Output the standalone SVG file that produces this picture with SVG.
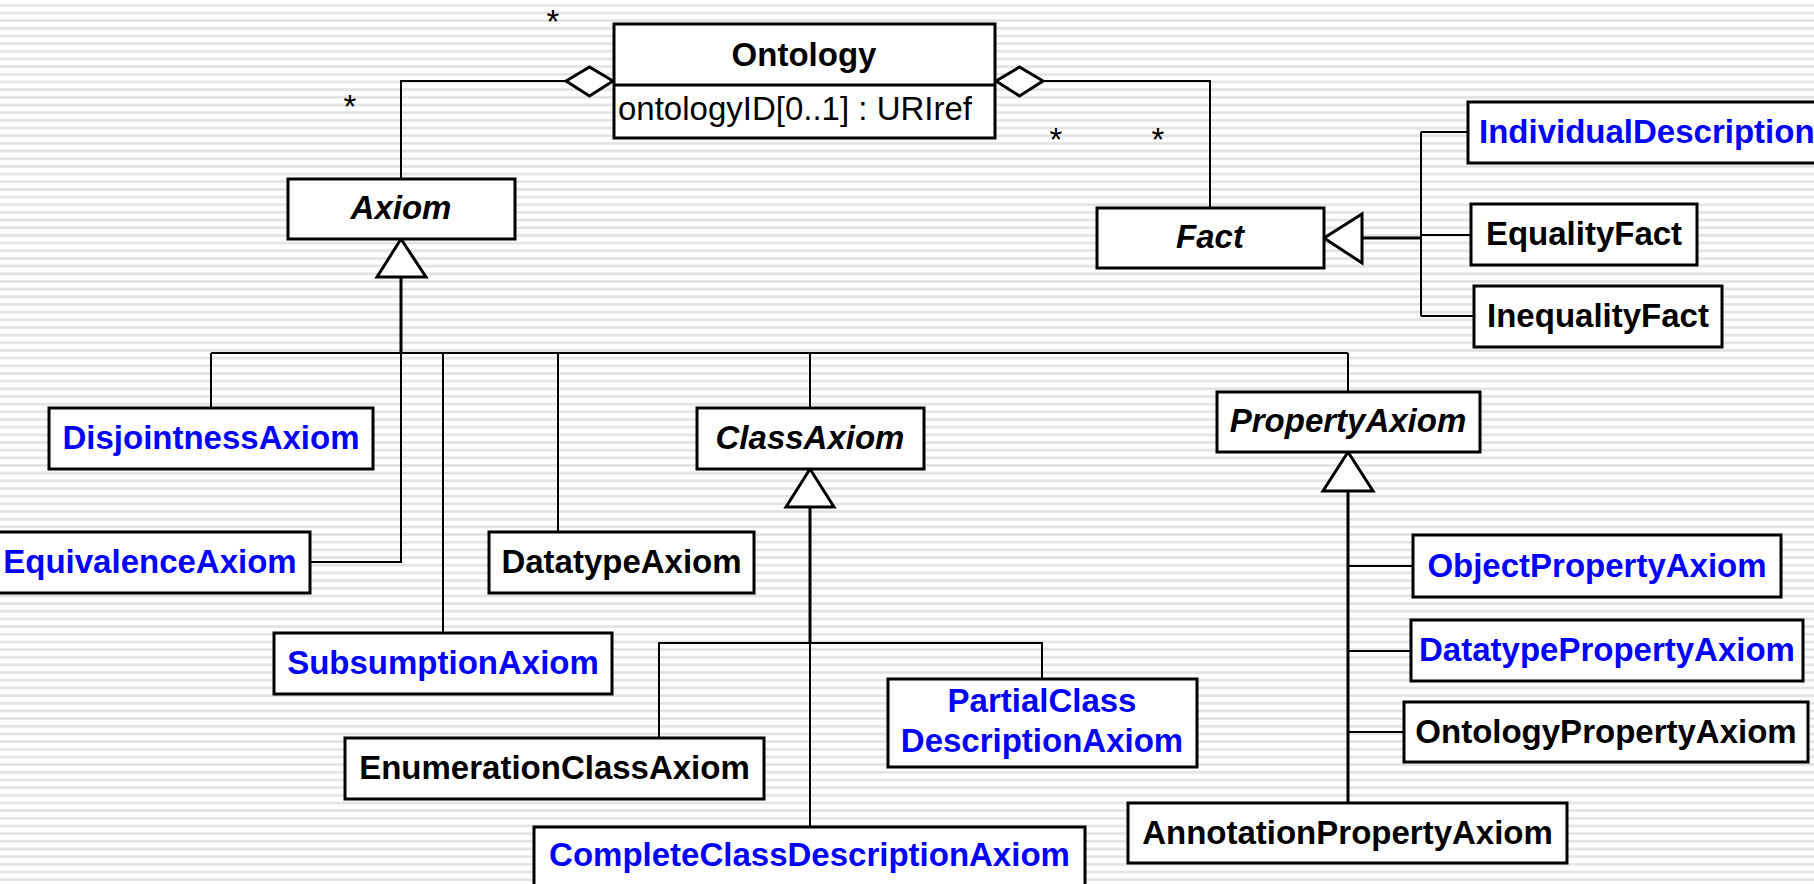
<svg xmlns="http://www.w3.org/2000/svg" width="1814" height="884" viewBox="0 0 1814 884">
<defs>
<pattern id="stripes" patternUnits="userSpaceOnUse" width="20" height="7.67">
<rect x="0" y="0" width="20" height="7.67" fill="#ffffff"/>
<rect x="0" y="4" width="20" height="2.6" fill="#e2e2e2"/>
</pattern>
<style>
.box{fill:#fff;stroke:#000;stroke-width:3}
.ln{fill:none;stroke:#000;stroke-width:2}
.thick{fill:none;stroke:#000;stroke-width:3}
.tri{fill:#fff;stroke:#000;stroke-width:3;stroke-linejoin:miter}
.dia{fill:#fff;stroke:#000;stroke-width:3}
.t{font-family:"Liberation Sans",Arial,sans-serif;font-size:33px;font-weight:bold;text-anchor:middle;fill:#000}
.blue{fill:#0000ff}
.it{font-style:italic}
.plain{font-family:"Liberation Sans",Arial,sans-serif;font-size:33px;fill:#000}
.star{font-family:"Liberation Sans",Arial,sans-serif;font-size:33px;fill:#000;text-anchor:middle}
</style>
</defs>
<rect x="0" y="0" width="1814" height="884" fill="url(#stripes)"/>

<g id="connectors">
<polyline class="ln" points="401,179 401,81 566,81"/>
<polygon class="dia" points="566,81 589.5,67 613,81 589.5,96"/>
<polyline class="ln" points="1210,208 1210,81 1043,81"/>
<polygon class="dia" points="996,81 1019.5,67 1043,81 1019.5,96"/>
<line class="thick" x1="401" y1="277" x2="401" y2="353"/>
<polyline class="ln" points="401,353 401,562 310,562"/>
<line class="ln" x1="211" y1="353" x2="1348" y2="353"/>
<line class="ln" x1="211" y1="353" x2="211" y2="408"/>
<line class="ln" x1="443" y1="353" x2="443" y2="633"/>
<line class="ln" x1="558" y1="353" x2="558" y2="532"/>
<line class="ln" x1="810" y1="353" x2="810" y2="408"/>
<line class="ln" x1="1348" y1="353" x2="1348" y2="392"/>
<polygon class="tri" points="401,239 377,277 426,277"/>
<line class="thick" x1="810" y1="507" x2="810" y2="643"/>
<line class="ln" x1="810" y1="643" x2="810" y2="827"/>
<polyline class="ln" points="659,738 659,643 1042,643 1042,679"/>
<polygon class="tri" points="810,469 786,507 834,507"/>
<line class="thick" x1="1348" y1="491" x2="1348" y2="803"/>
<line class="ln" x1="1348" y1="566" x2="1413" y2="566"/>
<line class="ln" x1="1348" y1="651" x2="1411" y2="651"/>
<line class="ln" x1="1348" y1="732" x2="1404" y2="732"/>
<polygon class="tri" points="1348,452 1323,491 1373,491"/>
<line class="thick" x1="1362" y1="238" x2="1421" y2="238"/>
<line class="ln" x1="1421" y1="132" x2="1421" y2="316"/>
<line class="ln" x1="1421" y1="132" x2="1468" y2="132"/>
<line class="ln" x1="1421" y1="235" x2="1471" y2="235"/>
<line class="ln" x1="1421" y1="316" x2="1474" y2="316"/>
<polygon class="tri" points="1324,238 1362,214 1362,263"/>
<text class="star" x="350" y="118">*</text>
<text class="star" x="553" y="33">*</text>
<text class="star" x="1056" y="151">*</text>
<text class="star" x="1158" y="151">*</text>
</g>

<g id="Ontology">
<rect class="box" x="614" y="24" width="381" height="114"/>
<line class="thick" x1="614" y1="85" x2="995" y2="85"/>
<text class="t" x="804" y="66">Ontology</text>
<text class="plain" x="618" y="120">ontologyID[0..1] : URIref</text>
</g>
<g id="Axiom">
<rect class="box" x="288" y="179" width="227" height="60"/>
<text class="t it" x="401" y="219">Axiom</text>
</g>
<g id="Fact">
<rect class="box" x="1097" y="208" width="227" height="60"/>
<text class="t it" x="1210" y="248">Fact</text>
</g>
<g id="IndividualDescription">
<rect class="box" x="1468" y="102" width="370" height="61"/>
<text class="t blue" x="1479" y="143" style="text-anchor:start">IndividualDescription</text>
</g>
<g id="EqualityFact">
<rect class="box" x="1471" y="204" width="226" height="61"/>
<text class="t" x="1584" y="245">EqualityFact</text>
</g>
<g id="InequalityFact">
<rect class="box" x="1474" y="286" width="248" height="61"/>
<text class="t" x="1598" y="327">InequalityFact</text>
</g>
<g id="DisjointnessAxiom">
<rect class="box" x="49" y="408" width="324" height="61"/>
<text class="t blue" x="211" y="449">DisjointnessAxiom</text>
</g>
<g id="EquivalenceAxiom">
<rect class="box" x="-10" y="532" width="320" height="61"/>
<text class="t blue" x="150" y="573">EquivalenceAxiom</text>
</g>
<g id="SubsumptionAxiom">
<rect class="box" x="274" y="633" width="338" height="61"/>
<text class="t blue" x="443" y="674">SubsumptionAxiom</text>
</g>
<g id="DatatypeAxiom">
<rect class="box" x="489" y="532" width="265" height="61"/>
<text class="t" x="621.5" y="573">DatatypeAxiom</text>
</g>
<g id="ClassAxiom">
<rect class="box" x="697" y="408" width="227" height="61"/>
<text class="t it" x="810" y="449">ClassAxiom</text>
</g>
<g id="EnumerationClassAxiom">
<rect class="box" x="345" y="738" width="419" height="61"/>
<text class="t" x="554.5" y="779">EnumerationClassAxiom</text>
</g>
<g id="PartialClassDescriptionAxiom">
<rect class="box" x="888" y="679" width="309" height="88"/>
<text class="t blue" x="1042" y="712">PartialClass</text>
<text class="t blue" x="1042" y="752">DescriptionAxiom</text>
</g>
<g id="CompleteClassDescriptionAxiom">
<rect class="box" x="534" y="827" width="551" height="70"/>
<text class="t blue" x="809.5" y="866">CompleteClassDescriptionAxiom</text>
</g>
<g id="PropertyAxiom">
<rect class="box" x="1217" y="392" width="263" height="60"/>
<text class="t it" x="1348" y="432">PropertyAxiom</text>
</g>
<g id="ObjectPropertyAxiom">
<rect class="box" x="1413" y="535" width="368" height="62"/>
<text class="t blue" x="1597" y="577">ObjectPropertyAxiom</text>
</g>
<g id="DatatypePropertyAxiom">
<rect class="box" x="1411" y="620" width="392" height="61"/>
<text class="t blue" x="1607" y="661">DatatypePropertyAxiom</text>
</g>
<g id="OntologyPropertyAxiom">
<rect class="box" x="1404" y="702" width="404" height="60"/>
<text class="t" x="1606" y="743">OntologyPropertyAxiom</text>
</g>
<g id="AnnotationPropertyAxiom">
<rect class="box" x="1128" y="803" width="439" height="60"/>
<text class="t" x="1347.5" y="844">AnnotationPropertyAxiom</text>
</g>
</svg>
